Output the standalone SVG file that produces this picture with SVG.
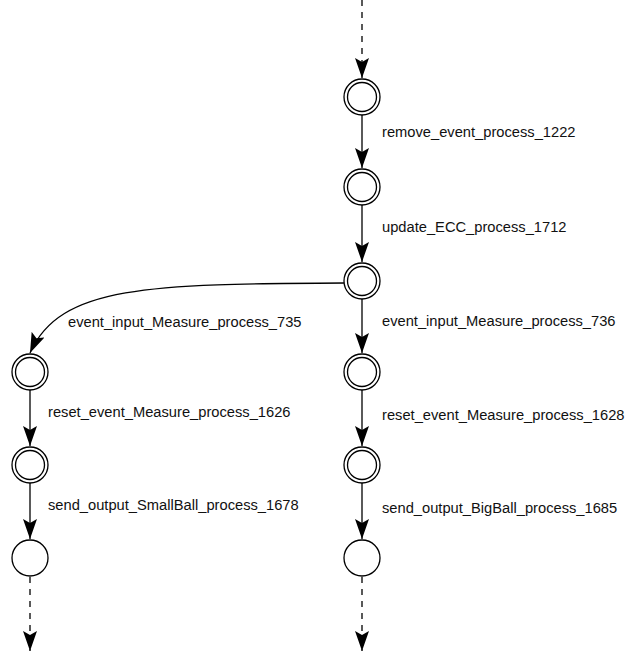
<svg xmlns="http://www.w3.org/2000/svg" width="634" height="653" viewBox="0 0 634 653">
<defs>
<marker id="ah" viewBox="0 0 20 14" refX="20" refY="7" markerWidth="20" markerHeight="14" orient="auto" markerUnits="userSpaceOnUse">
<path d="M0,0 L20,7 L0,14 L4,7 Z" fill="#000"/>
</marker>
<style>
.n circle{fill:#fff;stroke:#000;stroke-width:1.3}
.e{fill:none;stroke:#000;stroke-width:1.3;marker-end:url(#ah)}
.d{stroke-dasharray:6,6}
text{font-family:"Liberation Sans",Arial,sans-serif;font-size:14.7px;fill:#111}
</style>
</defs>
<rect width="634" height="653" fill="#fff"/>
<g id="edges">
<path class="e d" d="M362,0 L362,78"/>
<path class="e" d="M362,115 L362,168"/>
<path class="e" d="M362,205 L362,262"/>
<path class="e" d="M344,283 C150,284 60,285 30,353"/>
<path class="e" d="M362,299 L362,353"/>
<path class="e" d="M362,390 L362,446"/>
<path class="e" d="M362,483 L362,539"/>
<path class="e" d="M30,390 L30,446"/>
<path class="e" d="M30,483 L30,539"/>
<path class="e d" d="M30,577 L30,651"/>
<path class="e d" d="M362,577 L362,651"/>
</g>
<g id="labels">
<text x="382" y="137">remove_event_process_1222</text>
<text x="382" y="232">update_ECC_process_1712</text>
<text x="68" y="327">event_input_Measure_process_735</text>
<text x="382" y="326">event_input_Measure_process_736</text>
<text x="48" y="417">reset_event_Measure_process_1626</text>
<text x="382" y="420">reset_event_Measure_process_1628</text>
<text x="48" y="510">send_output_SmallBall_process_1678</text>
<text x="382" y="513">send_output_BigBall_process_1685</text>
</g>
<g id="n1" class="n"><circle cx="362" cy="97" r="18"/><circle cx="362" cy="97" r="14.5"/></g>
<g id="n2" class="n"><circle cx="362" cy="187" r="18"/><circle cx="362" cy="187" r="14.5"/></g>
<g id="n3" class="n"><circle cx="362" cy="281" r="18"/><circle cx="362" cy="281" r="14.5"/></g>
<g id="n4" class="n"><circle cx="362" cy="372" r="18"/><circle cx="362" cy="372" r="14.5"/></g>
<g id="n5" class="n"><circle cx="362" cy="465" r="18"/><circle cx="362" cy="465" r="14.5"/></g>
<g id="n6" class="n"><circle cx="362" cy="558" r="18"/></g>
<g id="n7" class="n"><circle cx="30" cy="372" r="18"/><circle cx="30" cy="372" r="14.5"/></g>
<g id="n8" class="n"><circle cx="30" cy="465" r="18"/><circle cx="30" cy="465" r="14.5"/></g>
<g id="n9" class="n"><circle cx="30" cy="558" r="18"/></g>
</svg>
